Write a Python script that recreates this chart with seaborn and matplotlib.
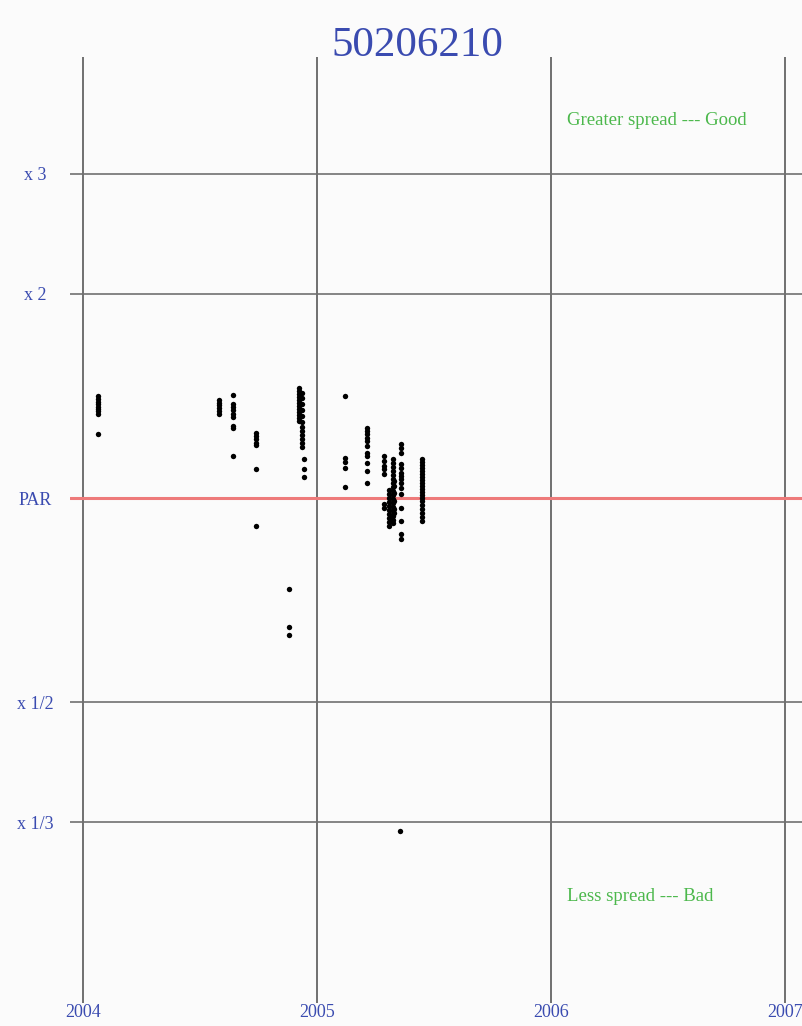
"""
Spread-versus-par chart for part 50206210, drawn with seaborn.
"""
import pandas as pd
import seaborn as sns
import matplotlib.pyplot as plt

sns.set_style('white')

TITLE = '50206210'

# measurement dates (decimal years) and spread ratio readings per batch
batch_dates = [2004.064, 2004.580, 2004.640, 2004.738, 2004.879,
               2004.922, 2004.935, 2004.945, 2005.118, 2005.216,
               2005.285, 2005.310, 2005.323, 2005.330, 2005.357,
               2005.361, 2005.451]
batch_ratios = [
    [1.413, 1.399, 1.385, 1.375, 1.361, 1.352, 1.343, 1.329, 1.242],
    [1.394, 1.380, 1.371, 1.357, 1.343, 1.329],
    [1.418, 1.375, 1.361, 1.348, 1.329, 1.316, 1.276, 1.268, 1.153],
    [1.246, 1.234, 1.221, 1.205, 1.197, 1.103, 0.909],
    [0.735, 0.646, 0.629],
    [1.452, 1.437, 1.423, 1.408, 1.394, 1.380, 1.366, 1.352, 1.338,
     1.325, 1.312, 1.298],
    [1.428, 1.404, 1.375, 1.348, 1.320, 1.294, 1.272, 1.255, 1.238,
     1.221, 1.205, 1.189],
    [1.141, 1.103, 1.074],
    [1.413, 1.145, 1.130, 1.107, 1.038],
    [1.268, 1.255, 1.242, 1.226, 1.213, 1.193, 1.165, 1.153, 1.126,
     1.096, 1.052],
    [1.153, 1.134, 1.115, 1.103, 1.085, 0.980, 0.967],
    [1.027, 1.014, 1.000, 0.987, 0.973, 0.960, 0.947, 0.934, 0.922, 0.909],
    [1.141, 1.126, 1.111, 1.096, 1.081, 1.067, 1.052, 1.038, 1.024,
     1.010, 0.997, 0.983, 0.970, 0.957, 0.941, 0.928, 0.919],
    [1.059, 1.042, 1.017, 0.990, 0.963, 0.950],
    [0.323],
    [1.201, 1.185, 1.165, 1.122, 1.107, 1.088, 1.077, 1.067, 1.052,
     1.034, 1.014, 0.967, 0.925, 0.885, 0.870],
    [1.141, 1.130, 1.118, 1.107, 1.096, 1.085, 1.074, 1.063, 1.052,
     1.042, 1.031, 1.021, 1.010, 1.000, 0.990, 0.977, 0.963, 0.950,
     0.938, 0.925],
]

year_ticks = [2004, 2005, 2006, 2007]
ratio_ticks = [3, 2, 1, 1 / 2, 1 / 3]
ratio_labels = ['x 3', 'x 2', 'PAR', 'x 1/2', 'x 1/3']

BLUE = '#3a4bb0'
GREEN = '#4cb84c'
RED = '#ee7a7a'
GRID = '#707070'
BG = '#fbfbfb'


def build_frame():
    rows = []
    for date, ratios in zip(batch_dates, batch_ratios):
        for r in ratios:
            rows.append({'Date': date, 'Ratio': r})
    return pd.DataFrame(rows)


def main():
    data = build_frame()
    fig = plt.figure(figsize=(8.03, 10.26), dpi=100, facecolor=BG)
    ax = fig.add_axes([70 / 803, 1 - 1003 / 1026, 733 / 803, 946 / 1026])
    ax.set_facecolor(BG)
    ax.set_yscale('log')
    ax.set_xlim(2003.945, 2007.077)
    ax.set_ylim(0.1805, 4.46)

    for yr in year_ticks:
        ax.axvline(yr, color=GRID, lw=1.4, zorder=1)
    for r in ratio_ticks:
        if r == 1:
            ax.axhline(r, color=RED, lw=2.2, zorder=1)
        else:
            ax.axhline(r, color=GRID, lw=1.2, zorder=1)

    sns.scatterplot(data=data, x='Date', y='Ratio', ax=ax, color='black',
                    s=15, linewidth=0, zorder=3, legend=False)

    serif = ['Liberation Serif', 'DejaVu Serif']
    ax.set_xticks(year_ticks)
    ax.set_xticklabels([str(y) for y in year_ticks], family=serif,
                       fontsize=13, color=BLUE)
    ax.set_yticks(ratio_ticks)
    ax.set_yticklabels(ratio_labels, family=serif, fontsize=13,
                       color=BLUE, ha='center', va='center_baseline')
    ax.yaxis.set_minor_locator(plt.NullLocator())
    ax.tick_params(axis='y', length=0, pad=25)
    ax.tick_params(axis='x', length=0, pad=1)
    ax.set_xlabel('')
    ax.set_ylabel('')
    for spine in ax.spines.values():
        spine.set_visible(False)

    ax.text(2006.07, 3.6, 'Greater spread --- Good', family=serif,
            fontsize=13.5, color=GREEN, ha='left', va='center')
    ax.text(2006.07, 0.259, 'Less spread --- Bad', family=serif,
            fontsize=13.5, color=GREEN, ha='left', va='center')
    fig.text(417 / 803, 1 - 46 / 1026, TITLE, family=serif, fontsize=31,
             color=BLUE, ha='center', va='center')

    fig.savefig('out.png', dpi=100, facecolor=BG)


if __name__ == '__main__':
    main()
